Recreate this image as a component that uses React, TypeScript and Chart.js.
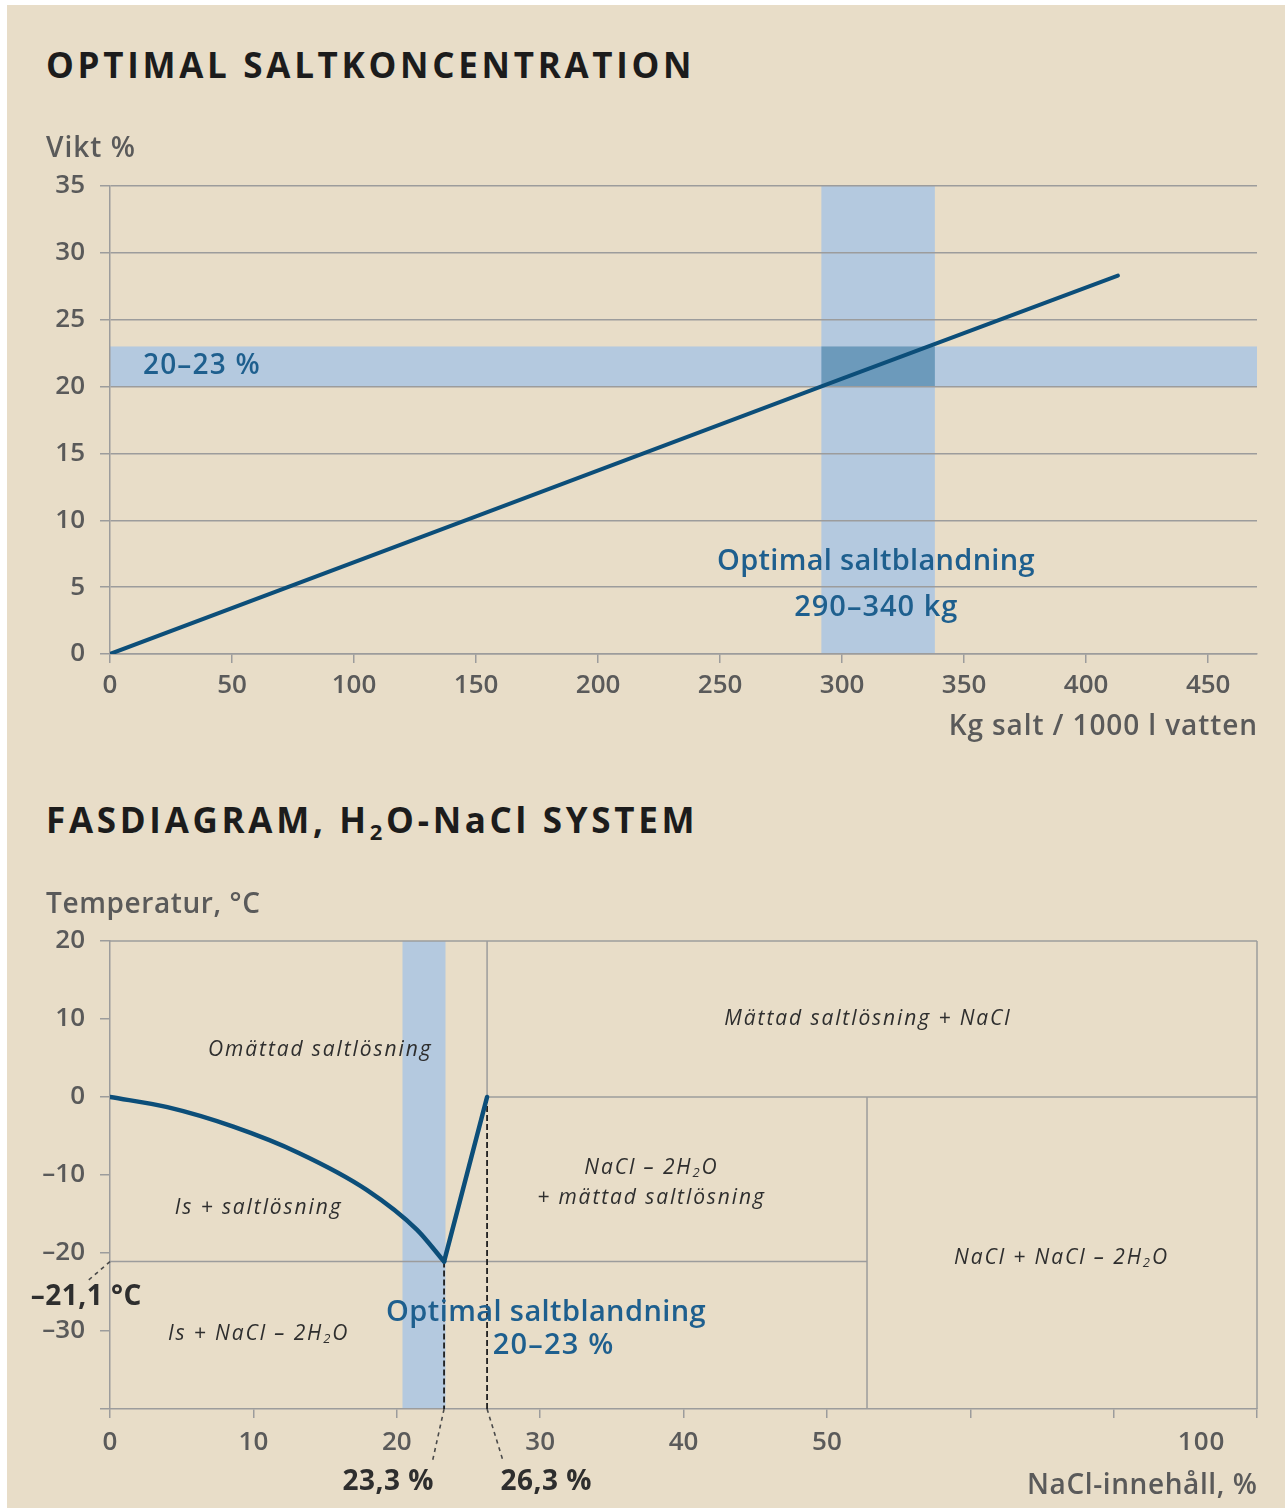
import React, { useEffect, useRef } from 'react';
import { Chart, registerables } from 'chart.js';

Chart.register(...registerables);

// ---------- styling ----------
const BG = '#e8ddc8';
const GRID = '#9c9c9c';
const LINE_BLUE = '#0c4e79';
const BAND = '#b4c9df';
const BAND_DARK = '#6c9abb';
const TEXT_BLUE = '#1e5f8e';
const TICK_COLOR = '#5a5a5a';
const DARK_TEXT = '#2e2e2e';
const FONT = "'Open Sans', sans-serif";

// ---------- data: chart 1 (Optimal saltkoncentration) ----------
const saltKg = [0, 150, 300, 413];
const saltWeightPct = [0, 10.3, 20.6, 28.3];
const xTicks1 = [0, 50, 100, 150, 200, 250, 300, 350, 400, 450];
const yTicks1 = [0, 5, 10, 15, 20, 25, 30, 35];
const optimalKgRange = [291.5, 338];
const optimalPctRange = [20, 23];

// ---------- data: chart 2 (Fasdiagram H2O-NaCl) ----------
const liquidusPct = [0, 4, 8.6, 13.2, 17.9, 21.4, 23.3];
const liquidusTemp = [0, -1.3, -3.8, -7.2, -11.9, -17, -21.1];
const saltBranchPct = [23.3, 26.3];
const saltBranchTemp = [-21.1, 0];
const xTicks2 = [0, 10, 20, 30, 40, 50, 60, 70, 80];
const xTickLabels2 = ['0', '10', '20', '30', '40', '50', '', '', ''];
const yTicks2 = [-40, -30, -20, -10, 0, 10, 20];
const yTickLabels2 = ['', '–30', '–20', '–10', '0', '10', '20'];
const eutecticTemp = -21.1;
const eutecticPct = 23.3;
const saturationPct = 26.3;
const hydratePct = 52.8;
const axisMaxPct = 80;
const axisMaxTemp = 20;
const axisMinTemp = -40;
const optimalPctBand = [20.4, 23.4];

// phase boundaries as [x1, y1, x2, y2] in data units
const phaseBoundaries: number[][] = [
  [0, axisMaxTemp, axisMaxPct, axisMaxTemp],
  [axisMaxPct, axisMaxTemp, axisMaxPct, axisMinTemp],
  [saturationPct, axisMaxTemp, saturationPct, 0],
  [saturationPct, 0, axisMaxPct, 0],
  [hydratePct, 0, hydratePct, axisMinTemp],
  [0, eutecticTemp, hydratePct, eutecticTemp],
];
const dashedGuides: number[][] = [
  [saturationPct, 0, saturationPct, axisMinTemp],
  [eutecticPct, eutecticTemp, eutecticPct, axisMinTemp],
];

type Part = [string, boolean];

// region labels: text parts, anchor in data units
const regionLabels: { parts: Part[]; x: number; y: number }[] = [
  { parts: [['Omättad saltlösning', false]], x: 14.6, y: 6 },
  { parts: [['Mättad saltlösning + NaCl', false]], x: 52.8, y: 10 },
  { parts: [['Is + saltlösning', false]], x: 10.3, y: -14.2 },
  { parts: [['NaCl – 2H', false], ['2', true], ['O', false]], x: 37.7, y: -9.1 },
  { parts: [['+ mättad saltlösning', false]], x: 37.7, y: -13 },
  { parts: [['NaCl + NaCl – 2H', false], ['2', true], ['O', false]], x: 66.3, y: -20.6 },
  { parts: [['Is + NaCl – 2H', false], ['2', true], ['O', false]], x: 10.3, y: -30.4 },
];

function drawParts(
  ctx: CanvasRenderingContext2D,
  parts: Part[],
  x: number,
  y: number,
  o: { size: number; weight?: string; italic?: boolean; color: string; align?: string; spacing?: number; baseline?: CanvasTextBaseline }
) {
  ctx.save();
  const size = o.size;
  const weight = o.weight || '400';
  const fontFor = (sub: boolean) =>
    `${o.italic ? 'italic ' : ''}${weight} ${sub ? Math.round(size * 0.62) : size}px ${FONT}`;
  const spacing = o.spacing || 0;
  (ctx as any).letterSpacing = spacing + 'px';
  ctx.textBaseline = o.baseline || 'middle';
  ctx.textAlign = 'left';
  let total = 0;
  const widths = parts.map(([t, sub]) => {
    ctx.font = fontFor(sub);
    const w = ctx.measureText(t).width;
    total += w;
    return w;
  });
  total -= spacing;
  let cx = o.align === 'center' ? x - total / 2 : o.align === 'right' ? x - total : x;
  ctx.fillStyle = o.color;
  parts.forEach(([t, sub], i) => {
    ctx.font = fontFor(sub);
    ctx.fillText(t, cx, sub ? y + size * 0.25 : y);
    cx += widths[i];
  });
  ctx.restore();
}

const tickFont = { family: "'Open Sans'", size: 26, weight: '600' as any };

// ---------- chart 1 ----------
function SaltChart() {
  const ref = useRef<HTMLCanvasElement>(null);
  useEffect(() => {
    if (!ref.current) return;
    const decor = {
      id: 'saltDecor',
      beforeDraw(chart: any) {
        const { ctx, chartArea: a, scales } = chart;
        const x = scales.x, y = scales.y;
        const bx1 = x.getPixelForValue(optimalKgRange[0]);
        const bx2 = x.getPixelForValue(optimalKgRange[1]);
        const by1 = y.getPixelForValue(optimalPctRange[1]);
        const by2 = y.getPixelForValue(optimalPctRange[0]);
        ctx.save();
        ctx.fillStyle = BAND;
        ctx.fillRect(bx1, a.top, bx2 - bx1, a.bottom - a.top);
        ctx.fillRect(a.left, by1, a.right - a.left, by2 - by1);
        ctx.fillStyle = BAND_DARK;
        ctx.fillRect(bx1, by1, bx2 - bx1, by2 - by1);
        ctx.restore();
      },
      afterDraw(chart: any) {
        const { ctx, chartArea: a, scales } = chart;
        const x = scales.x, y = scales.y;
        drawParts(ctx, [['20–23 %', false]], x.getPixelForValue(13.5), y.getPixelForValue(21.5), {
          size: 28, weight: '600', color: TEXT_BLUE, align: 'left', spacing: 1.2,
        });
        drawParts(ctx, [['Optimal saltblandning', false]], x.getPixelForValue(313.8), y.getPixelForValue(6.9), {
          size: 29, weight: '600', color: TEXT_BLUE, align: 'center', spacing: 0.3,
        });
        drawParts(ctx, [['290–340 kg', false]], x.getPixelForValue(313.8), y.getPixelForValue(3.45), {
          size: 29, weight: '600', color: TEXT_BLUE, align: 'center', spacing: 1,
        });
        drawParts(ctx, [['Vikt %', false]], 46, a.top - 29, {
          size: 28, weight: '600', color: TICK_COLOR, align: 'left', baseline: 'alphabetic', spacing: 1,
        });
        drawParts(ctx, [['Kg salt / 1000 l vatten', false]], a.right, a.bottom + 81, {
          size: 28, weight: '600', color: TICK_COLOR, align: 'right', baseline: 'alphabetic', spacing: 0.9,
        });
      },
    };
    const chart = new Chart(ref.current, {
      type: 'line',
      data: {
        datasets: [
          {
            data: saltKg.map((v, i) => ({ x: v, y: saltWeightPct[i] })),
            borderColor: LINE_BLUE,
            borderWidth: 4,
            pointRadius: 0,
            borderCapStyle: 'round',
            tension: 0,
          },
        ],
      },
      options: {
        animation: false,
        responsive: false,
        devicePixelRatio: 1,
        events: [],
        layout: { padding: { top: 56, left: 0, right: 28, bottom: 36 } },
        plugins: { legend: { display: false }, tooltip: { enabled: false } },
        scales: {
          x: {
            type: 'linear',
            min: 0,
            max: 470,
            afterBuildTicks: (s: any) => {
              s.ticks = xTicks1.map((v) => ({ value: v }));
            },
            afterFit: (s: any) => {
              s.height = 60;
            },
            grid: { drawOnChartArea: false, drawTicks: true, tickLength: 9, color: GRID, lineWidth: 1.5 },
            border: { display: true, color: GRID, width: 1.5 },
            ticks: { font: tickFont, color: TICK_COLOR, padding: 7, maxRotation: 0, autoSkip: false },
          },
          y: {
            type: 'linear',
            min: 0,
            max: 35,
            afterBuildTicks: (s: any) => {
              s.ticks = yTicks1.map((v) => ({ value: v }));
            },
            afterFit: (s: any) => {
              s.width = 110;
            },
            grid: { color: GRID, lineWidth: 1.5, tickLength: 10 },
            border: { display: true, color: GRID, width: 1.5 },
            ticks: { font: tickFont, color: TICK_COLOR, padding: 15 },
          },
        },
      },
      plugins: [decor],
    } as any);
    return () => chart.destroy();
  }, []);
  return (
    <canvas
      ref={ref}
      width={1285}
      height={620}
      style={{ position: 'absolute', left: 0, top: 130, width: 1285, height: 620 }}
    />
  );
}

// ---------- chart 2 ----------
function PhaseChart() {
  const ref = useRef<HTMLCanvasElement>(null);
  useEffect(() => {
    if (!ref.current) return;
    const decor = {
      id: 'phaseDecor',
      beforeDraw(chart: any) {
        const { ctx, chartArea: a, scales } = chart;
        const x = scales.x;
        const bx1 = x.getPixelForValue(optimalPctBand[0]);
        const bx2 = x.getPixelForValue(optimalPctBand[1]);
        ctx.save();
        ctx.fillStyle = BAND;
        ctx.fillRect(bx1, a.top, bx2 - bx1, a.bottom - a.top);
        ctx.restore();
      },
      beforeDatasetsDraw(chart: any) {
        const { ctx, scales } = chart;
        const x = scales.x, y = scales.y;
        ctx.save();
        ctx.strokeStyle = GRID;
        ctx.lineWidth = 1.5;
        phaseBoundaries.forEach(([x1, y1, x2, y2]) => {
          ctx.beginPath();
          ctx.moveTo(x.getPixelForValue(x1), y.getPixelForValue(y1));
          ctx.lineTo(x.getPixelForValue(x2), y.getPixelForValue(y2));
          ctx.stroke();
        });
        ctx.strokeStyle = '#1e1e1e';
        ctx.lineWidth = 1.8;
        ctx.setLineDash([6, 3]);
        dashedGuides.forEach(([x1, y1, x2, y2]) => {
          ctx.beginPath();
          ctx.moveTo(x.getPixelForValue(x1), y.getPixelForValue(y1));
          ctx.lineTo(x.getPixelForValue(x2), y.getPixelForValue(y2));
          ctx.stroke();
        });
        ctx.restore();
      },
      afterDraw(chart: any) {
        const { ctx, chartArea: a, scales } = chart;
        const x = scales.x, y = scales.y;
        // leader lines
        ctx.save();
        ctx.strokeStyle = '#4a4a4a';
        ctx.lineWidth = 1.6;
        ctx.setLineDash([4, 4]);
        const ex = x.getPixelForValue(eutecticPct);
        const sx = x.getPixelForValue(saturationPct);
        const ey = y.getPixelForValue(eutecticTemp);
        ctx.beginPath();
        ctx.moveTo(ex, a.bottom);
        ctx.lineTo(ex - 12, a.bottom + 54);
        ctx.moveTo(sx, a.bottom);
        ctx.lineTo(sx + 16, a.bottom + 52);
        ctx.moveTo(a.left, ey);
        ctx.lineTo(a.left - 22, ey + 19);
        ctx.stroke();
        ctx.restore();

        // region labels
        regionLabels.forEach((l) => {
          drawParts(ctx, l.parts, x.getPixelForValue(l.x), y.getPixelForValue(l.y), {
            size: 21, italic: true, weight: '400', color: DARK_TEXT, align: 'center', spacing: 1.9,
          });
        });

        // optimal label
        drawParts(ctx, [['Optimal saltblandning', false]], x.getPixelForValue(30.4), y.getPixelForValue(-27.6), {
          size: 29, weight: '600', color: TEXT_BLUE, align: 'center', spacing: 0.4,
        });
        drawParts(ctx, [['20–23 %', false]], x.getPixelForValue(30.9), y.getPixelForValue(-31.9), {
          size: 29, weight: '600', color: TEXT_BLUE, align: 'center', spacing: 1.2,
        });

        // value callouts
        drawParts(ctx, [['–21,1 °C', false]], a.left - 24, ey + 35, {
          size: 28, weight: '700', color: DARK_TEXT, align: 'center', spacing: 0.5,
        });
        drawParts(ctx, [['23,3 %', false]], ex - 56, a.bottom + 73, {
          size: 28, weight: '700', color: DARK_TEXT, align: 'center', spacing: 0.5,
        });
        drawParts(ctx, [['26,3 %', false]], sx + 59, a.bottom + 73, {
          size: 28, weight: '700', color: DARK_TEXT, align: 'center', spacing: 0.5,
        });

        // broken-axis end label
        drawParts(ctx, [['100', false]], x.getPixelForValue(76.1), a.bottom + 9 + 9 + 15.6, {
          size: 26, weight: '600', color: TICK_COLOR, align: 'center', spacing: 1,
        });

        // axis titles
        drawParts(ctx, [['Temperatur, °C', false]], 46, a.top - 28, {
          size: 28, weight: '600', color: TICK_COLOR, align: 'left', baseline: 'alphabetic', spacing: 0.6,
        });
        drawParts(ctx, [['NaCl-innehåll, %', false]], a.right, a.bottom + 85, {
          size: 28, weight: '600', color: TICK_COLOR, align: 'right', baseline: 'alphabetic', spacing: 0.6,
        });
      },
    };
    const chart = new Chart(ref.current, {
      type: 'line',
      data: {
        datasets: [
          {
            data: liquidusPct.map((v, i) => ({ x: v, y: liquidusTemp[i] })),
            borderColor: LINE_BLUE,
            borderWidth: 4.5,
            pointRadius: 0,
            cubicInterpolationMode: 'monotone',
            borderCapStyle: 'round',
            borderJoinStyle: 'round',
          },
          {
            data: saltBranchPct.map((v, i) => ({ x: v, y: saltBranchTemp[i] })),
            borderColor: LINE_BLUE,
            borderWidth: 4.5,
            pointRadius: 0,
            tension: 0,
            borderCapStyle: 'round',
          },
        ],
      },
      options: {
        animation: false,
        responsive: false,
        devicePixelRatio: 1,
        events: [],
        layout: { padding: { top: 51, left: 0, right: 28, bottom: 39 } },
        plugins: { legend: { display: false }, tooltip: { enabled: false } },
        scales: {
          x: {
            type: 'linear',
            min: 0,
            max: axisMaxPct,
            afterBuildTicks: (s: any) => {
              s.ticks = xTicks2.map((v) => ({ value: v }));
            },
            afterFit: (s: any) => {
              s.height = 60;
            },
            grid: { drawOnChartArea: false, drawTicks: true, tickLength: 9, color: GRID, lineWidth: 1.5 },
            border: { display: true, color: GRID, width: 1.5 },
            ticks: {
              font: tickFont,
              color: TICK_COLOR,
              padding: 9,
              maxRotation: 0,
              autoSkip: false,
              callback: (_v: any, i: number) => xTickLabels2[i],
            },
          },
          y: {
            type: 'linear',
            min: axisMinTemp,
            max: axisMaxTemp,
            afterBuildTicks: (s: any) => {
              s.ticks = yTicks2.map((v) => ({ value: v }));
            },
            afterFit: (s: any) => {
              s.width = 110;
            },
            grid: { drawOnChartArea: false, drawTicks: true, tickLength: 10, color: GRID, lineWidth: 1.5 },
            border: { display: true, color: GRID, width: 1.5 },
            ticks: {
              font: tickFont,
              color: TICK_COLOR,
              padding: 15,
              autoSkip: false,
              callback: (_v: any, i: number) => yTickLabels2[i],
            },
          },
        },
      },
      plugins: [decor],
    } as any);
    return () => chart.destroy();
  }, []);
  return (
    <canvas
      ref={ref}
      width={1285}
      height={618}
      style={{ position: 'absolute', left: 0, top: 890, width: 1285, height: 618 }}
    />
  );
}

const titleStyle: React.CSSProperties = {
  position: 'absolute',
  left: 46,
  fontFamily: FONT,
  fontSize: 35,
  fontWeight: 700,
  lineHeight: '35px',
  letterSpacing: '3.7px',
  color: '#1c1c1c',
  whiteSpace: 'nowrap',
};

export default function App() {
  return (
    <div
      style={{
        position: 'absolute',
        left: 0,
        top: 0,
        width: 1285,
        height: 1508,
        background: '#ffffff',
        overflow: 'hidden',
      }}
    >
      <div style={{ position: 'absolute', left: 7, top: 5, right: 0, bottom: 0, background: BG }} />
      <div style={{ ...titleStyle, top: 47 }}>OPTIMAL SALTKONCENTRATION</div>
      <SaltChart />
      <div style={{ ...titleStyle, top: 802 }}>
        FASDIAGRAM, H
        <span style={{ fontSize: 22, position: 'relative', top: 7 }}>2</span>
        O-NaCl SYSTEM
      </div>
      <PhaseChart />
    </div>
  );
}
